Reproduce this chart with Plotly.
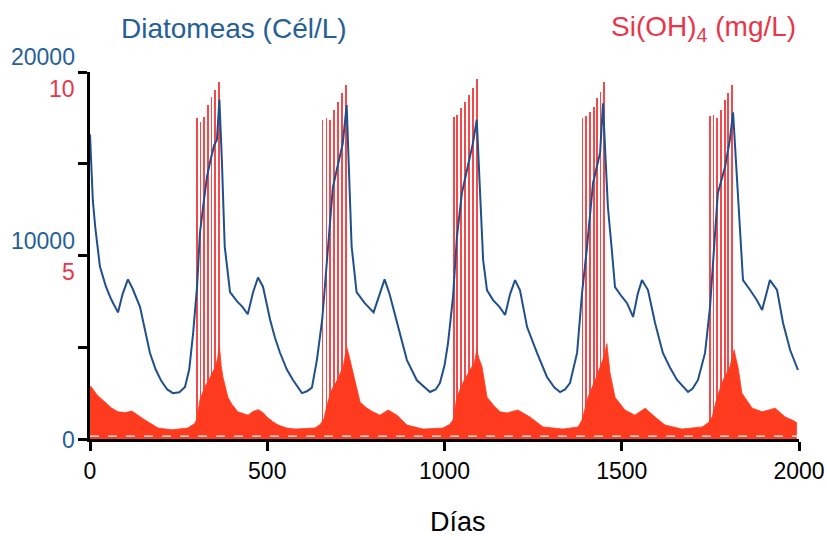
import plotly.graph_objects as go

# ---- Diatoms (cells/L) ----
diatom_days = [0, 4, 8, 15, 28, 45, 60, 79, 92, 107, 120, 141, 155, 169, 185, 200, 218, 234, 252, 268,
               280, 291, 302, 310, 320, 330, 340, 350, 358, 365,
               372, 380, 395, 415, 430, 445, 460, 474, 488, 508, 522, 536, 555, 573, 598, 612, 626,
               640, 655, 668, 685, 700, 713, 724,
               730, 738, 752, 775, 800, 818, 831, 845, 860, 874, 894, 922, 959, 975, 987,
               1000, 1010, 1024, 1035, 1049, 1066, 1080, 1091,
               1100, 1109, 1120, 1137, 1155, 1171, 1185, 1199, 1213, 1233, 1261, 1289, 1310, 1326, 1340, 1354,
               1374, 1388, 1402, 1419, 1439, 1447,
               1455, 1461, 1472, 1481, 1501, 1515, 1532, 1545, 1557, 1574, 1594, 1616, 1636, 1656, 1687, 1700, 1715,
               1735, 1749, 1760, 1771, 1791, 1805, 1814,
               1825, 1834, 1842, 1862, 1880, 1896, 1908, 1918, 1938, 1955, 1975, 1997]
diatom_cells = [16600, 14500, 13000, 11500, 9400, 8300, 7600, 6900, 7900, 8700, 8200, 7200, 5900, 4700, 3800, 3200, 2700, 2500, 2550, 2830,
                3800, 5780, 8300, 11200, 12800, 14300, 15200, 16000, 16300, 18500,
                15200, 10500, 8000, 7500, 7200, 6800, 8000, 8800, 8300, 6500, 5500, 4700, 3800, 3200, 2500, 2600, 2800,
                4300, 6500, 9700, 13700, 15000, 16100, 18200,
                14500, 10500, 8000, 7400, 6900, 7950, 8700, 7900, 6800, 5780, 4300, 3200, 2560, 2700, 3050,
                4000, 5230, 7740, 11000, 13400, 14800, 16100, 17400,
                13600, 9750, 8100, 7570, 7200, 6760, 7900, 8660, 8100, 6100, 4690, 3380, 2800, 2560, 2700, 3050,
                4690, 7950, 10460, 13950, 15600, 18300,
                15000, 12640, 10300, 8280, 7740, 7400, 6650, 7900, 8660, 8120, 6320, 4690, 3900, 3220, 2560, 2750, 3220,
                4690, 7190, 10140, 13400, 14800, 16300, 17800,
                13950, 11200, 8660, 8120, 7600, 7030, 7900, 8660, 8120, 6320, 4850, 3760]

# ---- Si(OH)4 (mg/L), filled series ----
si_days = [0, 6, 20, 42, 60, 79, 100, 118, 135, 155, 175, 192, 231, 276, 295, 302, 310, 324, 340, 353, 360, 365, 370, 375,
           389, 400, 417, 446, 460, 474, 488, 499, 515, 531, 555, 578, 635, 650, 660, 668, 680, 700, 715, 724, 730,
           747, 762, 780, 798, 818, 841, 866, 880, 894, 940, 996, 1015, 1024, 1035, 1052, 1072, 1085, 1091, 1097,
           1106, 1120, 1140, 1157, 1176, 1207, 1241, 1260, 1278, 1334, 1377, 1388, 1405, 1425, 1444, 1452, 1458,
           1463, 1467, 1481, 1495, 1509, 1537, 1566, 1594, 1622, 1670, 1727, 1745, 1755, 1769, 1786, 1805, 1812,
           1817, 1822, 1828, 1839, 1868, 1896, 1933, 1961, 1985, 1994]
si_conc = [1.45, 1.39, 1.2, 1.0, 0.85, 0.74, 0.72, 0.76, 0.66, 0.52, 0.40, 0.30, 0.25, 0.30, 0.42, 0.55, 1.06, 1.42, 1.7, 1.96, 2.2, 2.55, 2.0, 1.69,
           1.14, 0.95, 0.74, 0.65, 0.75, 0.80, 0.72, 0.6, 0.48, 0.38, 0.30, 0.27, 0.30, 0.40, 0.55, 0.9, 1.3, 1.65, 2.0, 2.5, 2.3,
           1.6, 1.0, 0.85, 0.74, 0.65, 0.79, 0.65, 0.5, 0.38, 0.27, 0.30, 0.40, 0.52, 1.14, 1.53, 1.88, 2.1, 2.43, 2.2,
           1.96, 1.14, 0.9, 0.74, 0.71, 0.79, 0.6, 0.45, 0.33, 0.27, 0.33, 0.52, 1.14, 1.6, 2.07, 2.3, 2.6,
           2.2, 1.8, 1.14, 0.95, 0.79, 0.65, 0.84, 0.6, 0.38, 0.27, 0.33, 0.45, 0.6, 1.14, 1.6, 1.96, 2.2,
           2.43, 2.2, 1.96, 1.25, 0.84, 0.74, 0.84, 0.6, 0.5, 0.44]

# ---- Si(OH)4 pulses (thin spikes) ----
spike_days = [301, 312, 322, 333, 343, 353, 364,
              656, 667, 678, 689, 700, 711, 722,
              1026, 1036, 1046, 1058, 1070, 1081, 1092,
              1389, 1400, 1410, 1421, 1430, 1440, 1450,
              1750, 1759, 1769, 1780, 1791, 1800, 1811]
spike_si = [8.74, 8.65, 8.78, 9.1, 9.33, 9.51, 9.74,
            8.7, 8.75, 8.7, 8.96, 9.18, 9.43, 9.65,
            8.77, 8.83, 9.02, 9.18, 9.37, 9.56, 9.8,
            8.75, 8.8, 8.9, 9.05, 9.3, 9.46, 9.73,
            8.8, 8.83, 8.75, 8.96, 9.24, 9.43, 9.65]

# near-zero dashed baseline series
base_days = [0, 2000]
base_si = [0.08, 0.08]

x_ticks = [0, 500, 1000, 1500, 2000]
si_ticks = [0, 2.5, 5, 7.5, 10]

BLUE = "#1f4f8c"
BLUE_TXT = "#255f98"
RED_TXT = "#e8364a"
RED_FILL = "#ff3b1f"
FONT = "Liberation Sans, Arial, sans-serif"

fig = go.Figure()
fig.add_trace(go.Scatter(x=si_days, y=si_conc, mode="lines", fill="tozeroy",
                         line=dict(color=RED_FILL, width=0.8), fillcolor=RED_FILL,
                         yaxis="y", showlegend=False, hoverinfo="skip"))
fig.add_trace(go.Bar(x=spike_days, y=spike_si, width=2.2, marker=dict(color="#f24a4a", line=dict(width=0)),
                     yaxis="y", showlegend=False, hoverinfo="skip"))
fig.add_trace(go.Scatter(x=base_days, y=base_si, mode="lines",
                         line=dict(color="white", width=1.2, dash="dash"),
                         yaxis="y", showlegend=False, hoverinfo="skip"))
fig.add_trace(go.Scatter(x=diatom_days, y=diatom_cells, mode="lines",
                         line=dict(color=BLUE, width=2),
                         yaxis="y2", showlegend=False, hoverinfo="skip"))

L, R, T, B = 90, 28, 72, 101
W, H = 827, 540
pw, ph = W - L - R, H - T - B

def px_x(px):
    return (px - L) / pw

def px_y(py):
    return (H - B - py) / ph

fig.update_layout(
    width=W, height=H,
    margin=dict(l=L, r=R, t=T, b=B, pad=0, autoexpand=False),
    paper_bgcolor="white", plot_bgcolor="white",
    bargap=0,
    font=dict(family=FONT, color="black"),
    xaxis=dict(range=[0, 2000], tickvals=x_ticks, ticktext=[str(v) for v in x_ticks],
               ticks="outside", ticklen=9, tickwidth=2.5, tickcolor="black", automargin=False,
               showline=True, linewidth=3, linecolor="black", showgrid=False, zeroline=False,
               tickfont=dict(size=23, color="black", family=FONT)),
    yaxis=dict(range=[0, 10], tickvals=si_ticks, showticklabels=False, automargin=False,
               ticks="outside", ticklen=9, tickwidth=2.5, tickcolor="black",
               showline=True, linewidth=3, linecolor="black", showgrid=False, zeroline=False),
    yaxis2=dict(range=[0, 20000], overlaying="y", visible=False, showgrid=False, zeroline=False,
                automargin=False),
)

anns = [
    ("20000", 20000, 15, BLUE_TXT),
    ("10", 20000, -17, RED_TXT),
    ("10000", 10000, 15, BLUE_TXT),
    ("5", 10000, -16, RED_TXT),
    ("0", 0, -1, BLUE_TXT),
]
for txt, yv, ys, col in anns:
    fig.add_annotation(text=txt, xref="paper", x=0, xanchor="right", xshift=-13,
                       yref="y2", y=yv, yanchor="middle", yshift=ys, showarrow=False,
                       font=dict(size=23, color=col, family=FONT))

fig.add_annotation(text="Diatomeas (Cél/L)", xref="paper", yref="paper", x=px_x(234), y=px_y(28),
                   xanchor="center", yanchor="middle", showarrow=False,
                   font=dict(size=28, color=BLUE_TXT, family=FONT))
fig.add_annotation(text="Si(OH)<sub>4</sub> (mg/L)", xref="paper", yref="paper", x=px_x(703), y=px_y(28),
                   xanchor="center", yanchor="middle", showarrow=False,
                   font=dict(size=28, color=RED_TXT, family=FONT))
fig.add_annotation(text="Días", xref="paper", yref="paper", x=px_x(458), y=px_y(539),
                   xanchor="center", yanchor="bottom", showarrow=False,
                   font=dict(size=27, color="black", family=FONT))

fig.write_html("out.html")
